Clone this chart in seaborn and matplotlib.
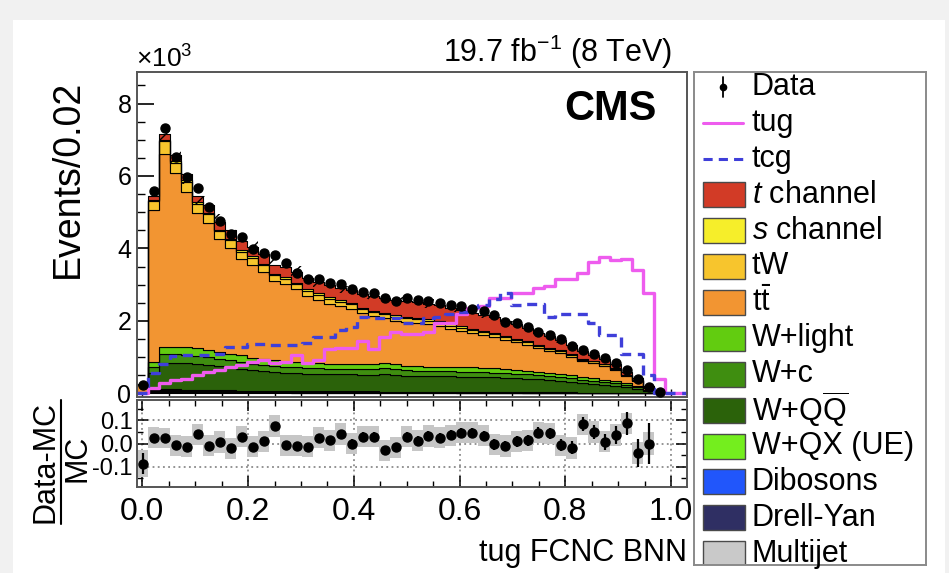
import numpy as np
import pandas as pd
import matplotlib
matplotlib.use("Agg")
import matplotlib.pyplot as plt
from matplotlib.patches import Rectangle
from matplotlib.lines import Line2D
from matplotlib.ticker import MultipleLocator, FuncFormatter
import seaborn as sns

sns.set_theme(style="white")
plt.rcParams["font.family"] = ["Liberation Sans", "DejaVu Sans"]
plt.rcParams["mathtext.fontset"] = "custom"
plt.rcParams["mathtext.rm"] = "Liberation Sans"
plt.rcParams["mathtext.it"] = "Liberation Sans:italic"
plt.rcParams["mathtext.bf"] = "Liberation Sans:bold"
plt.rcParams["hatch.linewidth"] = 1.0
plt.rcParams["hatch.color"] = "black"
for key in ("text.color", "axes.labelcolor", "xtick.color", "ytick.color"):
    plt.rcParams[key] = "black"

# ---------------------------------------------------------------- binning
X_LO, X_HI, N_BINS = -0.01, 1.03, 50
edges = np.linspace(X_LO, X_HI, N_BINS + 1)
centers = 0.5 * (edges[:-1] + edges[1:])
bin_w = edges[1] - edges[0]
bin_list = [float(e) for e in edges]

# ---------------------------------------------------------------- yields per bin (events)
t_channel = [5, 100, 160, 170, 180, 170, 220, 200, 230, 250, 260, 270, 250, 290, 300, 310, 320,
             330, 330, 340, 380, 400, 420, 420, 430, 440, 440, 450, 450, 450, 450, 440, 430, 420,
             400, 370, 340, 310, 280, 250, 210, 150, 130, 100, 80, 50, 25, 8, 2, 0]
s_channel = [2, 30, 40, 40, 40, 40, 40, 40, 40, 40, 40, 40, 40, 40, 40, 40, 40, 40, 40, 40, 40,
             40, 40, 40, 40, 40, 40, 40, 40, 40, 40, 38, 36, 34, 32, 30, 28, 26, 24, 22, 20, 18,
             16, 14, 12, 8, 5, 2, 0, 0]
tw = [15, 260, 340, 300, 280, 260, 240, 225, 210, 200, 190, 180, 170, 160, 150, 140, 135, 130,
      125, 120, 115, 110, 105, 100, 95, 92, 90, 88, 85, 82, 80, 78, 75, 72, 70, 67, 64, 60, 56,
      52, 48, 44, 40, 35, 30, 22, 12, 5, 1, 0]
ttbar = [178, 4190, 5330, 4780, 4290, 3730, 3500, 3105, 2920, 2660, 2570, 2400, 2170, 2140, 2010,
         1850, 1755, 1660, 1595, 1530, 1405, 1330, 1245, 1210, 1220, 1200, 1170, 1122, 1055, 1008,
         940, 910, 870, 804, 758, 713, 648, 604, 580, 516, 422, 418, 394, 321, 198, 150, 48, 25,
         17, 0]
w_light = [5, 142, 213, 213, 210, 207, 201, 191, 183, 175, 163, 158, 153, 144, 143, 140, 139, 137,
           136, 136, 134, 134, 140, 135, 128, 127, 125, 125, 124, 122, 122, 119, 118, 114, 111,
           108, 102, 97, 91, 85, 79, 71, 63, 56, 48, 34, 17, 5, 0, 0]
w_c = [6, 158, 236, 236, 234, 231, 222, 213, 203, 194, 181, 176, 170, 161, 160, 156, 154, 153,
       151, 151, 150, 150, 156, 150, 143, 141, 139, 139, 137, 136, 136, 132, 130, 127, 123, 119,
       114, 108, 100, 95, 87, 80, 70, 63, 53, 38, 19, 6, 0, 0]
w_qq = [19, 490, 732, 732, 725, 715, 689, 659, 631, 602, 561, 545, 528, 498, 495, 483, 479, 474,
        468, 468, 464, 464, 483, 465, 443, 436, 431, 432, 425, 421, 422, 410, 404, 392, 381, 370,
        353, 335, 311, 294, 270, 247, 218, 194, 166, 118, 58, 17, 0, 0]
w_qx = [3, 15, 20, 20, 20, 19, 18, 18, 17, 16, 15, 15, 14, 14, 13, 13, 13, 12, 12, 12, 12, 12, 12,
        12, 11, 11, 11, 11, 11, 10, 10, 10, 10, 10, 9, 9, 9, 8, 8, 7, 7, 6, 6, 5, 4, 3, 2, 1, 0, 0]
dibosons = [2, 10, 14, 14, 13, 13, 12, 12, 11, 11, 10, 10, 10, 9, 9, 9, 9, 8, 8, 8, 8, 8, 8, 7, 7,
            7, 7, 7, 7, 7, 6, 6, 6, 6, 6, 5, 5, 5, 5, 4, 4, 4, 3, 3, 2, 2, 1, 0, 0, 0]
drell_yan = [5, 25, 35, 35, 33, 30, 28, 27, 25, 24, 22, 21, 20, 19, 18, 17, 16, 16, 15, 15, 14, 14,
             13, 13, 12, 12, 12, 11, 11, 10, 10, 10, 9, 9, 8, 8, 7, 7, 6, 6, 5, 5, 4, 4, 3, 2, 1,
             0, 0, 0]
multijet = [10, 30, 40, 40, 35, 35, 30, 30, 30, 28, 28, 25, 25, 25, 22, 22, 20, 20, 20, 20, 18, 18,
            18, 18, 16, 16, 15, 15, 15, 14, 14, 13, 13, 12, 12, 11, 10, 10, 9, 9, 8, 7, 6, 5, 4, 3,
            2, 1, 0, 0]

# FCNC signal templates (events)
tug = [0, 140, 280, 370, 410, 510, 600, 640, 740, 780, 870, 920, 830, 870, 1050, 850, 920, 1220,
       1240, 1260, 1450, 1220, 1550, 1700, 1650, 1650, 1700, 1930, 1950, 2200, 2350, 2400, 2620,
       2620, 2760, 2760, 2900, 2950, 3170, 3170, 3310, 3630, 3770, 3680, 3700, 3400, 2760, 410, 0, 0]
tcg = [0, 550, 800, 1030, 1060, 1060, 1060, 1100, 1290, 1290, 1350, 1350, 1330, 1330, 1330, 1380,
       1560, 1560, 1750, 1840, 2110, 2070, 2070, 2070, 1930, 1930, 2070, 2110, 2200, 2250, 2390,
       2440, 2600, 2760, 2440, 2480, 2480, 2110, 2200, 2200, 2200, 1930, 1610, 1610, 1100, 1100,
       500, 0, 0, 0]

# observed events (bins 0-47)
data = [230, 5580, 7330, 6530, 5980, 5660, 5150, 4750, 4410, 4320, 3980, 3880, 3820, 3600, 3330,
        3170, 3150, 3060, 3030, 2870, 2800, 2760, 2640, 2550, 2620, 2570, 2560, 2500, 2440, 2410,
        2340, 2280, 2160, 1980, 1930, 1840, 1700, 1610, 1490, 1310, 1210, 1100, 980, 830, 640, 410,
        180, 30]

# (Data-MC)/MC, its statistical error and the relative MC uncertainty (bins 0-46)
ratio = [-0.086, 0.024, 0.024, -0.007, -0.014, 0.039, -0.010, 0.007, -0.021, 0.029, -0.014, 0.010,
         0.076, -0.007, -0.010, -0.014, 0.024, 0.014, 0.040, 0.000, 0.029, 0.029, -0.029, -0.017,
         0.029, 0.011, 0.033, 0.024, 0.036, 0.047, 0.047, 0.033, -0.004, -0.010, 0.010, 0.014,
         0.047, 0.043, -0.007, -0.019, 0.083, 0.050, 0.007, 0.036, 0.086, -0.039, 0.000]
ratio_err = [0.045, 0.012, 0.011, 0.012, 0.013, 0.013, 0.014, 0.015, 0.015, 0.015, 0.016, 0.016,
             0.016, 0.017, 0.017, 0.018, 0.018, 0.018, 0.018, 0.019, 0.019, 0.019, 0.020, 0.020,
             0.020, 0.020, 0.020, 0.020, 0.020, 0.020, 0.021, 0.021, 0.022, 0.022, 0.023, 0.024,
             0.025, 0.025, 0.026, 0.028, 0.030, 0.030, 0.035, 0.040, 0.050, 0.060, 0.090]
mc_unc = [0.058, 0.045, 0.044, 0.045, 0.046, 0.045, 0.045, 0.046, 0.045, 0.045, 0.046, 0.045,
          0.046, 0.045, 0.045, 0.046, 0.045, 0.045, 0.046, 0.045, 0.045, 0.046, 0.045, 0.045,
          0.045, 0.045, 0.046, 0.045, 0.045, 0.045, 0.046, 0.045, 0.045, 0.046, 0.045, 0.045,
          0.046, 0.045, 0.045, 0.046, 0.045, 0.046, 0.045, 0.046, 0.046, 0.047, 0.050]

# ---------------------------------------------------------------- styling
process_names = ["t channel", "s channel", "tW", "ttbar", "W+light", "W+c", "W+QQ",
                 "W+QX (UE)", "Dibosons", "Drell-Yan", "Multijet"]
process_yields = [t_channel, s_channel, tw, ttbar, w_light, w_c, w_qq, w_qx, dibosons,
                  drell_yan, multijet]
process_colors = {
    "t channel": "#d23b26", "s channel": "#f6ee2a", "tW": "#f7c52d", "ttbar": "#f29532",
    "W+light": "#62cc10", "W+c": "#3f8e10", "W+QQ": "#2b620a", "W+QX (UE)": "#74ee1e",
    "Dibosons": "#2156fb", "Drell-Yan": "#2f2f63", "Multijet": "#c9c9c9",
}
legend_labels = {
    "t channel": "$t$ channel", "s channel": "$s$ channel", "tW": "tW",
    "ttbar": r"t$\bar{\rm t}$", "W+light": "W+light", "W+c": "W+c",
    "W+QQ": r"W+Q$\overline{\rm Q}$", "W+QX (UE)": "W+QX (UE)", "Dibosons": "Dibosons",
    "Drell-Yan": "Drell-Yan", "Multijet": "Multijet",
}
TUG_COLOR = "#ee5cee"
TCG_COLOR = "#3f3fd9"
TCG_DASH = (0, (3.0, 2.0))
FRAME = "#555555"

W, H = 949, 573
fx = lambda px: px / W
fy = lambda py: 1 - py / H

fig = plt.figure(figsize=(W / 100, H / 100), dpi=100)
fig.patch.set_facecolor("#f1f1f1")
fig.add_artist(Rectangle((fx(13), 0), 932 / W, 553 / H, transform=fig.transFigure,
                         facecolor="white", edgecolor="none", zorder=-10))

ax = fig.add_axes([fx(137), fy(397), 550 / W, 325 / H])
axr = fig.add_axes([fx(137), fy(487), 550 / W, 87 / H])
axl = fig.add_axes([fx(694), fy(565), 232 / W, 493 / H])

# ---------------------------------------------------------------- main panel
long = pd.DataFrame({
    "x": np.tile(centers, len(process_names)),
    "events": np.concatenate(process_yields).astype(float),
    "process": np.repeat(process_names, N_BINS),
})
sns.histplot(data=long, x="x", weights="events", hue="process", hue_order=process_names,
             multiple="stack", bins=bin_list, element="step", palette=process_colors, alpha=1,
             edgecolor="black", linewidth=0.8, legend=False, ax=ax)

total = np.sum(np.array(process_yields, dtype=float), axis=0)
n_r = len(ratio)
unc_abs = total[:n_r] * np.array(mc_unc)
ax.bar(centers[:n_r], 2 * unc_abs, bottom=total[:n_r] - unc_abs, width=bin_w, fill=False,
       hatch="/", linewidth=0, edgecolor="black", zorder=4)

sns.histplot(x=centers, weights=np.array(tug, float), bins=bin_list, element="step", fill=False,
             color=TUG_COLOR, linewidth=2.4, ax=ax)
sns.histplot(x=centers, weights=np.array(tcg, float), bins=bin_list, element="step", fill=False,
             color=TCG_COLOR, linewidth=2.4, linestyle=TCG_DASH, ax=ax)

n_d = len(data)
ax.errorbar(centers[:n_d], data, yerr=np.sqrt(data), fmt="o", color="black", ms=6.5,
            elinewidth=1.2, capsize=0, zorder=6)

ax.set_xlim(X_LO, X_HI)
ax.set_ylim(-100, 8870)
ax.set_xlabel("")
ax.set_ylabel("")
ax.yaxis.set_major_locator(MultipleLocator(2000))
ax.yaxis.set_minor_locator(MultipleLocator(500))
ax.yaxis.set_major_formatter(FuncFormatter(lambda v, p: f"{v / 1000:.0f}"))
ax.xaxis.set_major_locator(MultipleLocator(0.2))
ax.xaxis.set_minor_locator(MultipleLocator(0.05))
ax.tick_params(axis="y", which="major", direction="in", length=12, width=1.2, labelsize=18,
               pad=4, left=True, right=False)
ax.tick_params(axis="y", which="minor", direction="in", length=6, width=1.0, left=True,
               right=False)
ax.tick_params(axis="x", which="major", direction="in", length=6, width=1.0, bottom=True,
               top=False, labelbottom=False)
ax.tick_params(axis="x", which="minor", direction="in", length=3, width=1.0, bottom=True,
               top=False)
for sp in ax.spines.values():
    sp.set_color(FRAME)
    sp.set_linewidth(1.4)

# ---------------------------------------------------------------- ratio panel
ratio_arr = np.array(ratio)
mc_arr = np.array(mc_unc)
axr.bar(centers[:n_r], 2 * mc_arr, bottom=ratio_arr - mc_arr, width=bin_w,
        color="#c6c6c6", linewidth=0, zorder=1)
axr.errorbar(centers[:n_r], ratio, yerr=ratio_err, fmt="o", color="black", ms=6.5,
             elinewidth=1.6, capsize=0, zorder=5)
axr.set_xlim(X_LO, X_HI)
axr.set_ylim(-0.187, 0.187)
axr.set_yticks([-0.1, 0.0, 0.1])
axr.set_yticklabels(["-0.1", "0.0", "0.1"])
axr.yaxis.set_minor_locator(MultipleLocator(0.05))
axr.xaxis.set_major_locator(MultipleLocator(0.2))
axr.xaxis.set_minor_locator(MultipleLocator(0.05))
axr.xaxis.set_major_formatter(FuncFormatter(lambda v, p: f"{v:.1f}"))
axr.grid(True, which="major", linestyle=(0, (1.2, 2.2)), color="#777777", linewidth=1.1,
         zorder=0)
axr.set_axisbelow(True)
axr.tick_params(axis="both", which="major", direction="in", length=8, width=1.1,
                left=True, right=True, top=True, bottom=True)
axr.tick_params(axis="both", which="minor", direction="in", length=4, width=1.0,
                left=True, right=True, top=True, bottom=True)
axr.tick_params(axis="x", labelsize=23, pad=7)
axr.tick_params(axis="y", labelsize=17, pad=3)
for sp in axr.spines.values():
    sp.set_color(FRAME)
    sp.set_linewidth(1.4)

# ---------------------------------------------------------------- legend panel
axl.set_xlim(0, 232)
axl.set_ylim(493, 0)
axl.set_xticks([])
axl.set_yticks([])
for sp in axl.spines.values():
    sp.set_color("#8a8a8a")
    sp.set_linewidth(1.4)

row0, row_step = 15, 35.9
text_x = 58
rows = ["Data", "tug", "tcg"] + process_names
for i, key in enumerate(rows):
    yc = row0 + row_step * i
    if key == "Data":
        axl.plot([29, 29], [yc - 10, yc + 10], color="black", lw=1.3)
        axl.plot([29], [yc], "o", color="black", ms=4.5)
        label = "Data"
    elif key == "tug":
        axl.plot([9, 49], [yc, yc], color=TUG_COLOR, lw=2.2)
        label = "tug"
    elif key == "tcg":
        axl.plot([9, 49], [yc, yc], color=TCG_COLOR, lw=2.2, linestyle=TCG_DASH)
        label = "tcg"
    else:
        axl.add_patch(Rectangle((9, yc - 12.5), 42, 25, facecolor=process_colors[key],
                                edgecolor="#4a4a4a", linewidth=1.0))
        label = legend_labels[key]
    axl.text(text_x, yc, label, fontsize=22, ha="left", va="center")

# ---------------------------------------------------------------- labels
fig.text(fx(68), fy(179), "Events/0.02", rotation=90, ha="center", va="center", fontsize=27)
fig.text(fx(136), fy(68), "×10$^{3}$", ha="left", va="baseline", fontsize=19)
fig.text(fx(672), fy(62), "19.7 fb$^{-1}$ (8 TeV)", ha="right", va="baseline", fontsize=22)
fig.text(fx(657), fy(120), "CMS", ha="right", va="baseline", fontsize=30, fontweight="bold")
fig.text(fx(687), fy(561), "tug FCNC BNN", ha="right", va="baseline", fontsize=22)
fig.text(fx(45), fy(462), "Data-MC", rotation=90, ha="center", va="center", fontsize=22)
fig.add_artist(Line2D([fx(61), fx(61)], [fy(400), fy(524)], transform=fig.transFigure,
                      color="black", lw=1.5))
fig.text(fx(77), fy(458), "MC", rotation=90, ha="center", va="center", fontsize=22)

fig.savefig("out.png", dpi=100, facecolor=fig.get_facecolor())
